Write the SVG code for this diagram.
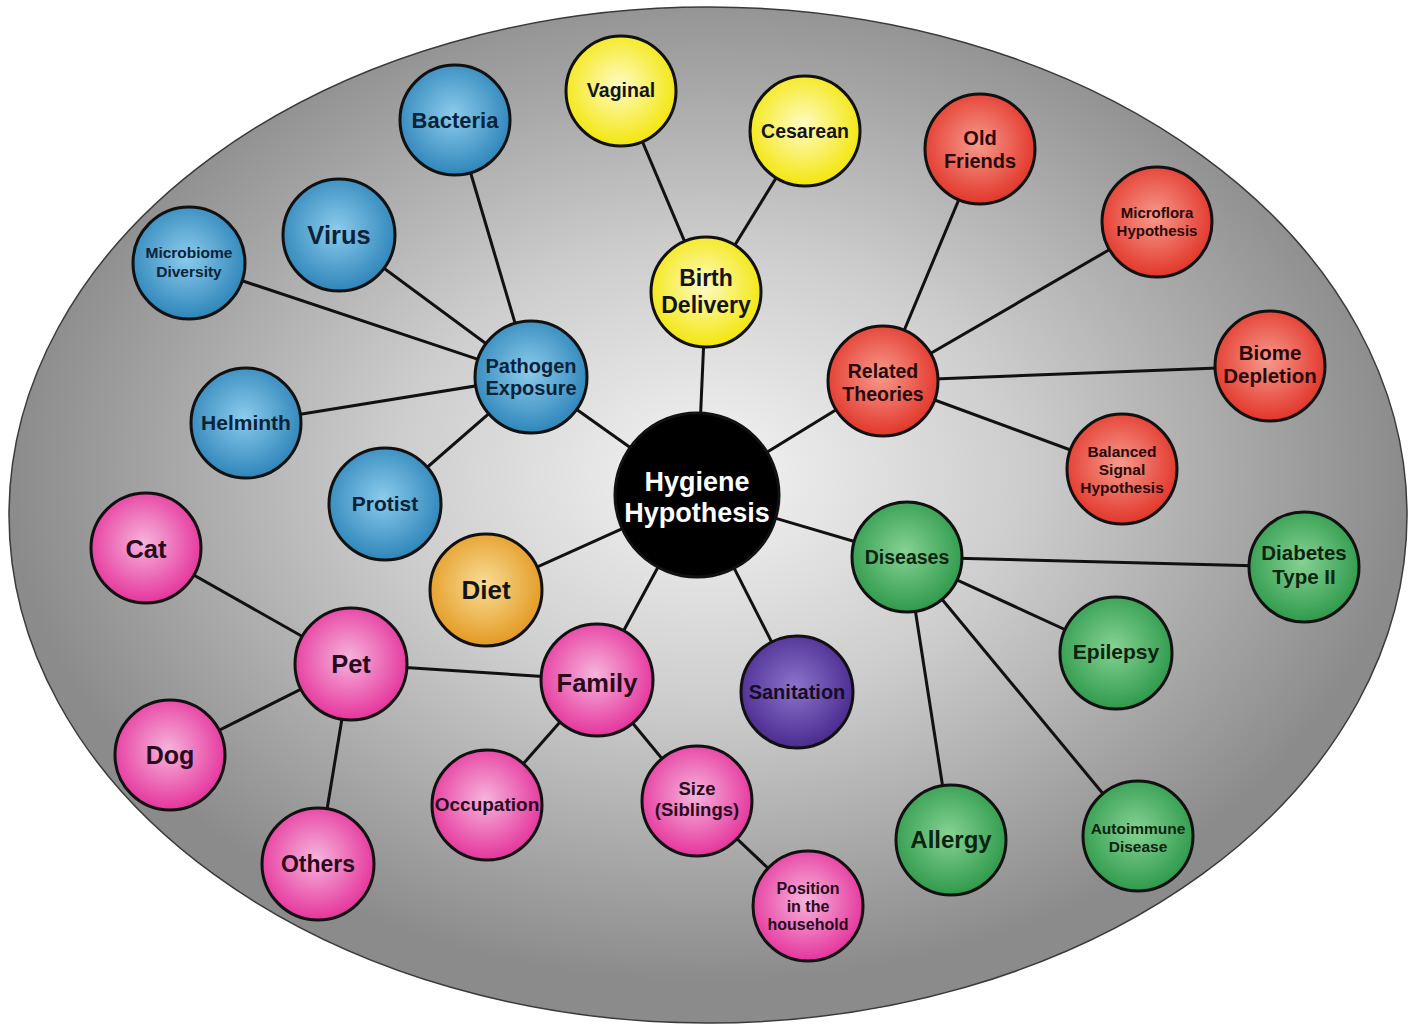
<svg xmlns="http://www.w3.org/2000/svg" width="1408" height="1024" viewBox="0 0 1408 1024">
<defs>
  <radialGradient id="bg" cx="0.5" cy="0.46" r="0.5">
    <stop offset="0" stop-color="#f4f4f4"/>
    <stop offset="0.45" stop-color="#cdcdcd"/>
    <stop offset="1" stop-color="#8b8b8b"/>
  </radialGradient>
  <radialGradient id="gBlue" cx="0.48" cy="0.45" r="0.55">
    <stop offset="0" stop-color="#8ccbec"/>
    <stop offset="1" stop-color="#2f86ba"/>
  </radialGradient>
  <radialGradient id="gYellow" cx="0.48" cy="0.45" r="0.55">
    <stop offset="0" stop-color="#fffbc4"/>
    <stop offset="1" stop-color="#f3e60c"/>
  </radialGradient>
  <radialGradient id="gRed" cx="0.48" cy="0.45" r="0.55">
    <stop offset="0" stop-color="#f79a8c"/>
    <stop offset="1" stop-color="#e2362a"/>
  </radialGradient>
  <radialGradient id="gGreen" cx="0.48" cy="0.45" r="0.55">
    <stop offset="0" stop-color="#86d293"/>
    <stop offset="1" stop-color="#2f9a4c"/>
  </radialGradient>
  <radialGradient id="gPink" cx="0.48" cy="0.45" r="0.55">
    <stop offset="0" stop-color="#f6b4dc"/>
    <stop offset="1" stop-color="#e5359c"/>
  </radialGradient>
  <radialGradient id="gOrange" cx="0.48" cy="0.45" r="0.55">
    <stop offset="0" stop-color="#f9dd98"/>
    <stop offset="1" stop-color="#e39a22"/>
  </radialGradient>
  <radialGradient id="gPurple" cx="0.48" cy="0.45" r="0.55">
    <stop offset="0" stop-color="#8c74cc"/>
    <stop offset="1" stop-color="#4a2b8f"/>
  </radialGradient>
</defs>
<style>
  .node circle { stroke: #111; stroke-width: 3; }
  .blue circle { fill: url(#gBlue); }
  .yellow circle { fill: url(#gYellow); }
  .red circle { fill: url(#gRed); }
  .green circle { fill: url(#gGreen); }
  .pink circle { fill: url(#gPink); }
  .orange circle { fill: url(#gOrange); }
  .purple circle { fill: url(#gPurple); }
  .black circle { fill: #000; }
  text { font-family: "Liberation Sans", Arial, sans-serif; font-weight: bold; text-anchor: middle; fill: #141414; }
  .blue text { fill: #0b2339; }
  .red text { fill: #2a0808; }
  .green text { fill: #0b2410; }
  .pink text { fill: #2a0a1c; }
  .purple text { fill: #150c2a; }
  .black text { fill: #ffffff; }
  .edges line { stroke: #111; stroke-width: 3; }
</style>
<rect width="1408" height="1024" fill="#ffffff"/>
<ellipse cx="708" cy="515" rx="699" ry="508" fill="url(#bg)" stroke="#3a3a3a" stroke-width="1.5"/>

<g class="edges">
  <line x1="697" y1="495" x2="531" y2="377"/>
  <line x1="697" y1="495" x2="706" y2="292"/>
  <line x1="697" y1="495" x2="883" y2="381"/>
  <line x1="697" y1="495" x2="907" y2="557"/>
  <line x1="697" y1="495" x2="797" y2="692"/>
  <line x1="697" y1="495" x2="597" y2="680"/>
  <line x1="697" y1="495" x2="486" y2="590"/>
  <line x1="531" y1="377" x2="455" y2="120"/>
  <line x1="531" y1="377" x2="339" y2="235"/>
  <line x1="531" y1="377" x2="189" y2="263"/>
  <line x1="531" y1="377" x2="246" y2="423"/>
  <line x1="531" y1="377" x2="385" y2="504"/>
  <line x1="706" y1="292" x2="621" y2="91"/>
  <line x1="706" y1="292" x2="805" y2="131"/>
  <line x1="883" y1="381" x2="980" y2="149"/>
  <line x1="883" y1="381" x2="1157" y2="222"/>
  <line x1="883" y1="381" x2="1270" y2="366"/>
  <line x1="883" y1="381" x2="1122" y2="469"/>
  <line x1="907" y1="557" x2="1304" y2="567"/>
  <line x1="907" y1="557" x2="1116" y2="653"/>
  <line x1="907" y1="557" x2="951" y2="840"/>
  <line x1="907" y1="557" x2="1138" y2="836"/>
  <line x1="597" y1="680" x2="351" y2="664"/>
  <line x1="597" y1="680" x2="487" y2="805"/>
  <line x1="597" y1="680" x2="697" y2="801"/>
  <line x1="697" y1="801" x2="808" y2="906"/>
  <line x1="351" y1="664" x2="146" y2="548"/>
  <line x1="351" y1="664" x2="170" y2="755"/>
  <line x1="351" y1="664" x2="318" y2="864"/>
</g>

<g id="bacteria" class="node blue"><circle cx="455" cy="120" r="55"/><text x="455" y="128" font-size="22">Bacteria</text></g>
<g id="virus" class="node blue"><circle cx="339" cy="235" r="56"/><text x="339" y="244" font-size="25.5">Virus</text></g>
<g id="microbiome-diversity" class="node blue"><circle cx="189" cy="263" r="56"/><text x="189" y="258" font-size="15.5">Microbiome</text><text x="189" y="276.5" font-size="15.5">Diversity</text></g>
<g id="pathogen-exposure" class="node blue"><circle cx="531" cy="377" r="56"/><text x="531" y="373" font-size="20">Pathogen</text><text x="531" y="395" font-size="20">Exposure</text></g>
<g id="helminth" class="node blue"><circle cx="246" cy="423" r="55"/><text x="246" y="430" font-size="21">Helminth</text></g>
<g id="protist" class="node blue"><circle cx="385" cy="504" r="56"/><text x="385" y="511" font-size="21">Protist</text></g>

<g id="vaginal" class="node yellow"><circle cx="621" cy="91" r="55"/><text x="621" y="97" font-size="19.5">Vaginal</text></g>
<g id="cesarean" class="node yellow"><circle cx="805" cy="131" r="55"/><text x="805" y="138" font-size="19.5">Cesarean</text></g>
<g id="birth-delivery" class="node yellow"><circle cx="706" cy="292" r="55"/><text x="706" y="286" font-size="23">Birth</text><text x="706" y="313" font-size="23">Delivery</text></g>

<g id="old-friends" class="node red"><circle cx="980" cy="149" r="55"/><text x="980" y="145" font-size="20">Old</text><text x="980" y="168" font-size="20">Friends</text></g>
<g id="microflora-hypothesis" class="node red"><circle cx="1157" cy="222" r="55"/><text x="1157" y="218" font-size="15">Microflora</text><text x="1157" y="236" font-size="15">Hypothesis</text></g>
<g id="related-theories" class="node red"><circle cx="883" cy="381" r="55"/><text x="883" y="378" font-size="19.5">Related</text><text x="883" y="401" font-size="19.5">Theories</text></g>
<g id="biome-depletion" class="node red"><circle cx="1270" cy="366" r="55"/><text x="1270" y="360" font-size="20.5">Biome</text><text x="1270" y="383" font-size="20.5">Depletion</text></g>
<g id="balanced-signal-hypothesis" class="node red"><circle cx="1122" cy="469" r="55"/><text x="1122" y="456.5" font-size="15.5">Balanced</text><text x="1122" y="474.5" font-size="15.5">Signal</text><text x="1122" y="492.5" font-size="15.5">Hypothesis</text></g>

<g id="diseases" class="node green"><circle cx="907" cy="557" r="55"/><text x="907" y="564" font-size="19.5">Diseases</text></g>
<g id="diabetes-type-ii" class="node green"><circle cx="1304" cy="567" r="55"/><text x="1304" y="560" font-size="20.5">Diabetes</text><text x="1304" y="584" font-size="20.5">Type II</text></g>
<g id="epilepsy" class="node green"><circle cx="1116" cy="653" r="56"/><text x="1116" y="659" font-size="21">Epilepsy</text></g>
<g id="allergy" class="node green"><circle cx="951" cy="840" r="55"/><text x="951" y="848" font-size="24">Allergy</text></g>
<g id="autoimmune-disease" class="node green"><circle cx="1138" cy="836" r="55"/><text x="1138" y="833.5" font-size="15.5">Autoimmune</text><text x="1138" y="851.5" font-size="15.5">Disease</text></g>

<g id="cat" class="node pink"><circle cx="146" cy="548" r="55"/><text x="146" y="558" font-size="25.5">Cat</text></g>
<g id="pet" class="node pink"><circle cx="351" cy="664" r="56"/><text x="351" y="673" font-size="25.5">Pet</text></g>
<g id="dog" class="node pink"><circle cx="170" cy="755" r="55"/><text x="170" y="764" font-size="25">Dog</text></g>
<g id="others" class="node pink"><circle cx="318" cy="864" r="56"/><text x="318" y="872" font-size="23">Others</text></g>
<g id="family" class="node pink"><circle cx="597" cy="680" r="56"/><text x="597" y="692" font-size="25.5">Family</text></g>
<g id="occupation" class="node pink"><circle cx="487" cy="805" r="55"/><text x="487" y="810.5" font-size="19">Occupation</text></g>
<g id="size-siblings" class="node pink"><circle cx="697" cy="801" r="55"/><text x="697" y="794.5" font-size="18.5">Size</text><text x="697" y="815.5" font-size="18.5">(Siblings)</text></g>
<g id="position-in-the-household" class="node pink"><circle cx="808" cy="906" r="55"/><text x="808" y="893.5" font-size="16">Position</text><text x="808" y="911.5" font-size="16">in the</text><text x="808" y="929.5" font-size="16">household</text></g>

<g id="diet" class="node orange"><circle cx="486" cy="590" r="56"/><text x="486" y="599" font-size="26">Diet</text></g>
<g id="sanitation" class="node purple"><circle cx="797" cy="692" r="56"/><text x="797" y="699" font-size="20">Sanitation</text></g>
<g id="hygiene-hypothesis" class="node black"><circle cx="697" cy="495" r="82"/><text x="697" y="491" font-size="27">Hygiene</text><text x="697" y="522" font-size="27">Hypothesis</text></g>
</svg>
